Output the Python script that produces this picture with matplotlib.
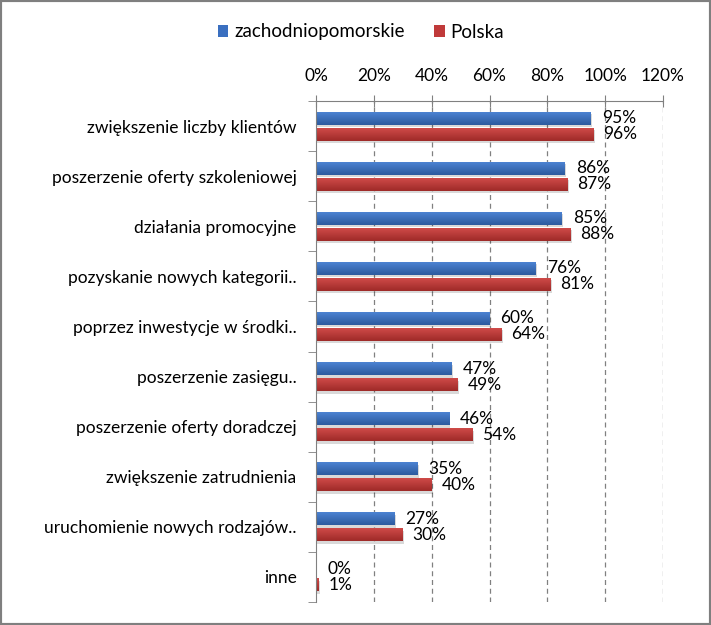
import matplotlib
matplotlib.use('Agg')
import matplotlib.pyplot as plt
import numpy as np
from matplotlib.patches import Rectangle

categories = [
    'zwiększenie liczby klientów',
    'poszerzenie oferty szkoleniowej',
    'działania promocyjne',
    'pozyskanie nowych kategorii..',
    'poprzez inwestycje w środki..',
    'poszerzenie zasięgu..',
    'poszerzenie oferty doradczej',
    'zwiększenie zatrudnienia',
    'uruchomienie nowych rodzajów..',
    'inne',
]
zachodniopomorskie = [95, 86, 85, 76, 60, 47, 46, 35, 27, 0]
polska = [96, 87, 88, 81, 64, 49, 54, 40, 30, 1]
xticks = [0, 20, 40, 60, 80, 100, 120]

plt.rcParams['font.family'] = ['Lato', 'DejaVu Sans']
FS = 12.5

fig = plt.figure(figsize=(7.11, 6.25), dpi=100)
ax = fig.add_axes([316 / 711, 23 / 625, 347 / 711, 501 / 625])

y = np.arange(len(categories))
h = 0.26
off = 0.16


def gradient_bars(bars, top, bottom):
    grad = np.linspace(0, 1, 64).reshape(-1, 1)
    cmap = matplotlib.colors.LinearSegmentedColormap.from_list('g', [top, bottom])
    for b in bars:
        x0, y0 = b.get_x(), b.get_y()
        w, hh = b.get_width(), b.get_height()
        # soft shadow
        ax.add_patch(Rectangle((x0 + 0.5, y0 + 0.05), w, hh, color='#000000',
                               alpha=0.15, lw=0, zorder=1.5))
        im = ax.imshow(grad, cmap=cmap, aspect='auto', extent=(x0, x0 + w, y0 + hh, y0),
                       zorder=2.5, interpolation='bicubic')
        im.set_clip_path(b)


b1 = ax.barh(y - off, zachodniopomorskie, height=h, color='#3a6fc0', zorder=2,
             label='zachodniopomorskie')
b2 = ax.barh(y + off, polska, height=h, color='#c03a3a', zorder=2, label='Polska')
gradient_bars(b1, '#4f86d6', '#2c5a9e')
gradient_bars(b2, '#d34d4b', '#9e2a28')

for yy, v in zip(y - off, zachodniopomorskie):
    ax.annotate(f'{v}%', (v, yy), xytext=(8, 0), textcoords='offset points',
                va='center', ha='left', fontsize=FS, zorder=5)
for yy, v in zip(y + off, polska):
    ax.annotate(f'{v}%', (v, yy), xytext=(7, 0), textcoords='offset points',
                va='center', ha='left', fontsize=FS, zorder=5)

ax.set_xlim(0, 120)
ax.set_ylim(len(categories) - 0.5, -0.5)
ax.set_xticks(xticks)
ax.set_xticklabels([f'{t}%' for t in xticks], fontsize=FS)
ax.xaxis.tick_top()
ax.tick_params(axis='x', direction='inout', length=8, color='#808080', pad=8)
for t in xticks[1:]:
    ax.axvline(t, color='#808080', lw=0.9, ls=(0, (4, 3)), zorder=1)

ax.set_yticks(y)
ax.set_yticklabels(categories, fontsize=FS)
ax.set_yticks(np.arange(len(categories) + 1) - 0.5, minor=True)
ax.tick_params(axis='y', which='major', length=0, pad=14)
ax.tick_params(axis='y', which='minor', length=6, color='#808080')

for s in ['right', 'bottom']:
    ax.spines[s].set_visible(False)
ax.spines['top'].set_color('#808080')
ax.spines['left'].set_color('#808080')

fig.legend(handles=[b1, b2], loc='center', bbox_to_anchor=(361 / 711, 1 - 32 / 625),
           ncol=2, frameon=False, fontsize=13.5, handlelength=0.55, handleheight=0.55,
           handletextpad=0.3, columnspacing=1.6)

fig.patches.append(Rectangle((0, 0), 1, 1, transform=fig.transFigure, fill=False,
                             edgecolor='#7f7f7f', lw=3))

fig.savefig('out.png', dpi=100)
